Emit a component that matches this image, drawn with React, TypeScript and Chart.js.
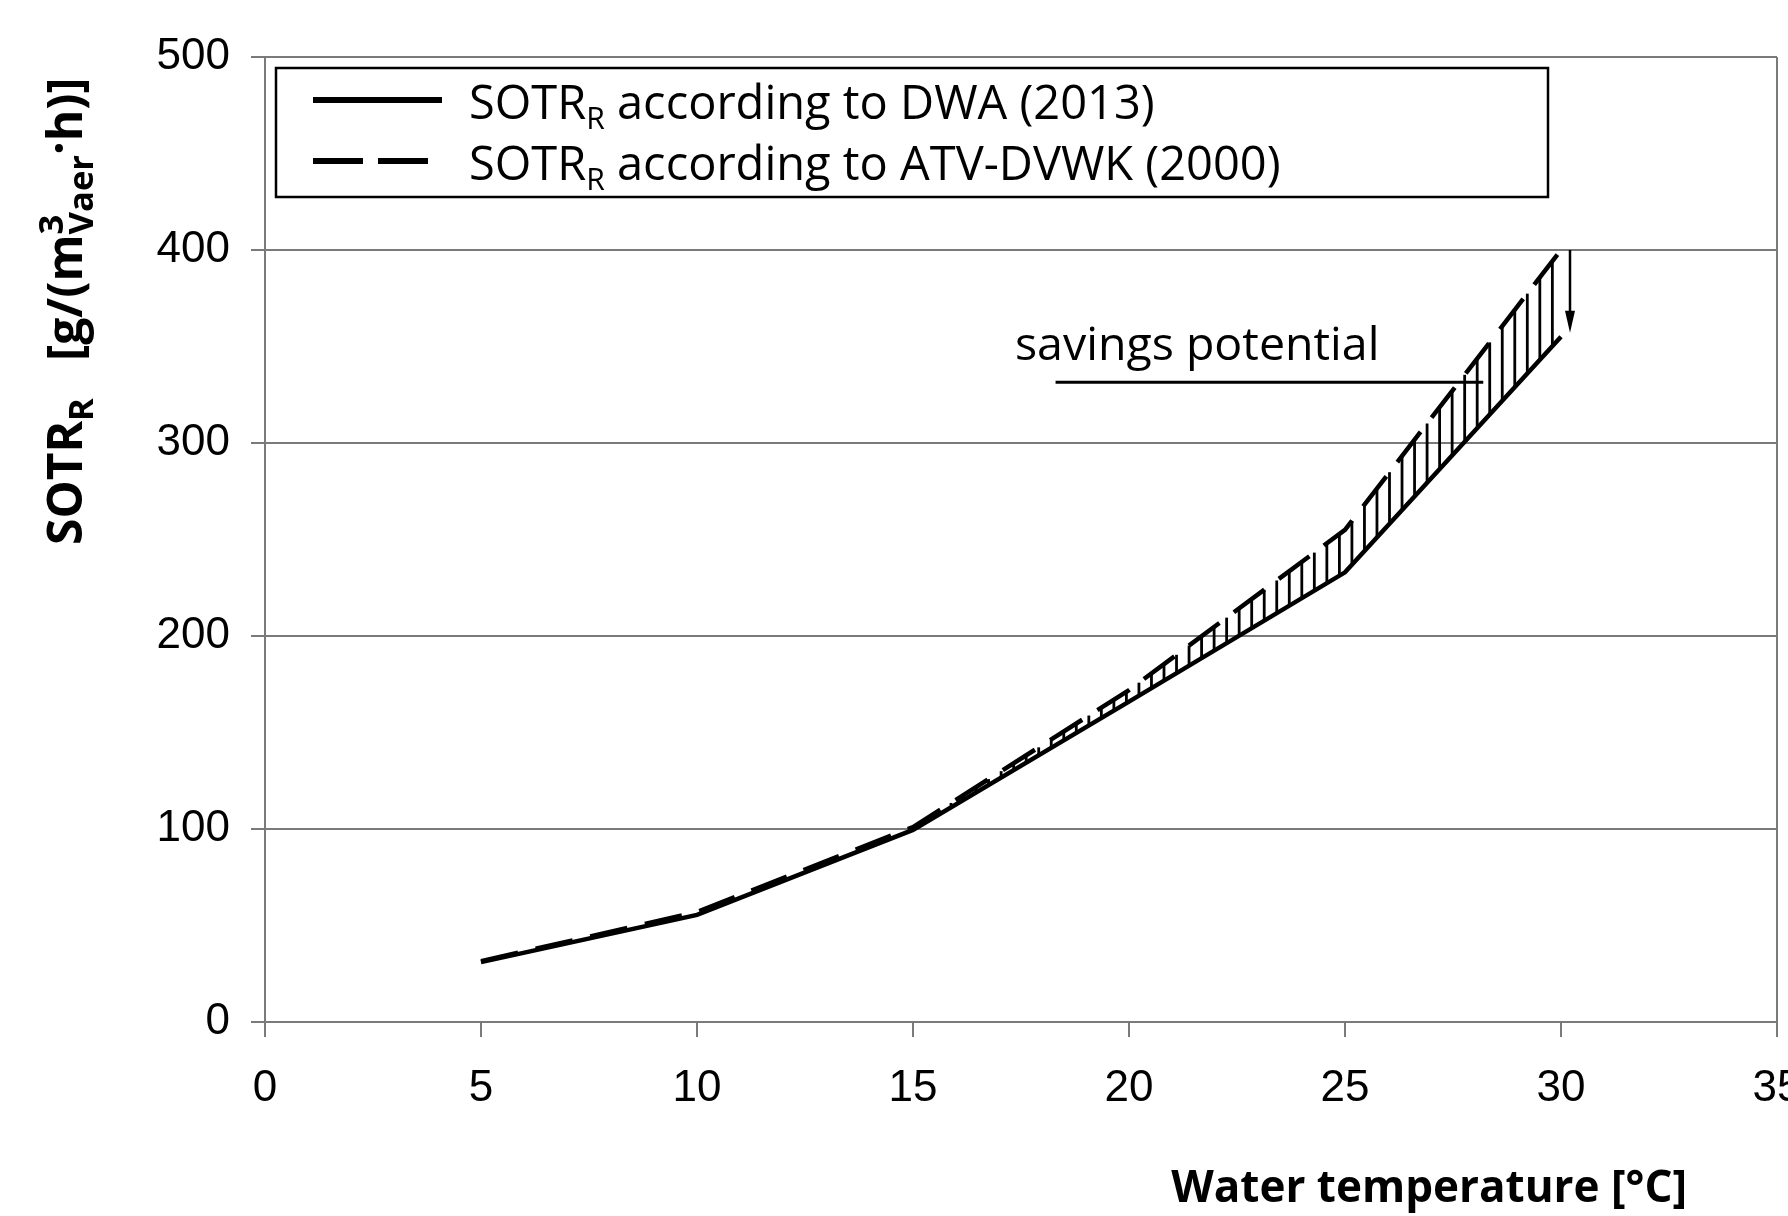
import React, { useEffect, useRef } from 'react';
import { Chart, registerables } from 'chart.js';

Chart.register(...registerables);

// ---- data ----
const temperatures = [5, 10, 15, 20, 25, 30];
const sotrDWA = [31, 55.5, 99.5, 166, 233, 355];
const sotrATV = [31.5, 57, 101, 172, 255, 400];
const xTickValues = [0, 5, 10, 15, 20, 25, 30, 35];
const yTickValues = [0, 100, 200, 300, 400, 500];
const seriesNames = ['according to DWA (2013)', 'according to ATV-DVWK (2000)'];
const hatchFrom = 15.3;
const hatchTo = 30;
const hatchStep = 0.29;
const noteText = 'savings potential';
const noteAt = { x: 17.36, y: 343 };
const noteLine = { x1: 18.3, x2: 28.2, y: 331.5 };

const GRID = '#7a7a7a';
const SANS = '"Open Sans", "Noto Sans", sans-serif';
const ARIAL = '"Liberation Sans", Arial, sans-serif';

type Part = { t: string; m?: 'sub' | 'sup' | 'mid'; stack?: boolean };

function drawRich(
  ctx: CanvasRenderingContext2D,
  parts: Part[],
  x: number,
  y: number,
  size: number,
  weight: string,
  ratio: number
) {
  let cx = x;
  let stackW = 0;
  for (const p of parts) {
    const s = p.m === 'sub' || p.m === 'sup' ? size * ratio : size;
    ctx.font = `${weight} ${s}px ${SANS}`;
    const dy =
      p.m === 'sub' ? size * 0.22 : p.m === 'sup' ? -size * 0.4 : p.m === 'mid' ? -size * 0.12 : 0;
    ctx.fillText(p.t, cx, y + dy);
    const w = ctx.measureText(p.t).width;
    if (p.stack) {
      stackW = w;
    } else {
      cx += Math.max(w, stackW);
      stackW = 0;
    }
  }
  return cx;
}

function interp(xs: number[], ys: number[], x: number) {
  for (let i = 0; i < xs.length - 1; i++) {
    if (x >= xs[i] && x <= xs[i + 1]) {
      const f = (x - xs[i]) / (xs[i + 1] - xs[i]);
      return ys[i] + f * (ys[i + 1] - ys[i]);
    }
  }
  return ys[ys.length - 1];
}

const decorations = {
  id: 'decorations',
  afterDatasetsDraw(chart: any) {
    const { ctx, scales, chartArea } = chart;
    const xs = scales.x;
    const ys = scales.y;
    ctx.save();
    // hatching between the two curves
    ctx.beginPath();
    ctx.rect(chartArea.left, chartArea.top, chartArea.right - chartArea.left, chartArea.bottom - chartArea.top);
    ctx.clip();
    ctx.strokeStyle = '#000';
    ctx.lineWidth = 2.8;
    for (let t = hatchFrom; t <= hatchTo + 1e-6; t += hatchStep) {
      const px = xs.getPixelForValue(t);
      const yTop = ys.getPixelForValue(interp(temperatures, sotrATV, t));
      const yBot = ys.getPixelForValue(interp(temperatures, sotrDWA, t));
      ctx.beginPath();
      ctx.moveTo(px, yTop);
      ctx.lineTo(px, yBot);
      ctx.stroke();
    }
    ctx.restore();

    ctx.save();
    ctx.fillStyle = '#000';
    ctx.strokeStyle = '#000';
    // arrow at the end
    const last = temperatures.length - 1;
    const ax = xs.getPixelForValue(temperatures[last]) + 9;
    const ay1 = ys.getPixelForValue(sotrATV[last]);
    const ay2 = ys.getPixelForValue(sotrDWA[last]) - 4;
    ctx.lineWidth = 2.5;
    ctx.beginPath();
    ctx.moveTo(ax, ay1);
    ctx.lineTo(ax, ay2 - 18);
    ctx.stroke();
    ctx.beginPath();
    ctx.moveTo(ax - 5, ay2 - 22);
    ctx.lineTo(ax + 5, ay2 - 22);
    ctx.lineTo(ax, ay2);
    ctx.closePath();
    ctx.fill();

    // annotation
    ctx.textAlign = 'left';
    ctx.textBaseline = 'alphabetic';
    ctx.font = `400 46.5px ${SANS}`;
    ctx.fillText(noteText, xs.getPixelForValue(noteAt.x), ys.getPixelForValue(noteAt.y));
    ctx.lineWidth = 3;
    ctx.beginPath();
    const ly = ys.getPixelForValue(noteLine.y);
    ctx.moveTo(xs.getPixelForValue(noteLine.x1), ly);
    ctx.lineTo(xs.getPixelForValue(noteLine.x2), ly);
    ctx.stroke();

    // legend box
    const bx = chartArea.left + 11;
    const by = chartArea.top + 11;
    const bw = 1272;
    const bh = 129;
    ctx.fillStyle = '#fff';
    ctx.fillRect(bx, by, bw, bh);
    ctx.lineWidth = 2.5;
    ctx.strokeStyle = '#000';
    ctx.strokeRect(bx, by, bw, bh);
    const rows = [by + 32, by + 93];
    ctx.lineWidth = 6;
    ctx.beginPath();
    ctx.moveTo(bx + 37, rows[0]);
    ctx.lineTo(bx + 166, rows[0]);
    ctx.stroke();
    ctx.setLineDash([50, 15]);
    ctx.beginPath();
    ctx.moveTo(bx + 37, rows[1]);
    ctx.lineTo(bx + 152, rows[1]);
    ctx.stroke();
    ctx.setLineDash([]);
    ctx.fillStyle = '#000';
    seriesNames.forEach((name, i) => {
      drawRich(ctx, [{ t: 'SOTR' }, { t: 'R', m: 'sub' }, { t: ' ' + name }], bx + 193, rows[i] + 19, 47, '400', 0.64);
    });

    // y axis title
    ctx.save();
    ctx.translate(82, 545);
    ctx.rotate(-Math.PI / 2);
    drawRich(
      ctx,
      [
        { t: 'SOTR' },
        { t: 'R', m: 'sub' },
        { t: '   [g/(m' },
        { t: '3', m: 'sup', stack: true },
        { t: 'Vaer', m: 'sub' },
        { t: '·', m: 'mid' },
        { t: 'h)]' },
      ],
      0,
      0,
      48,
      '700',
      0.72
    );
    ctx.restore();

    // x axis title
    ctx.textAlign = 'right';
    ctx.font = `700 44px ${SANS}`;
    ctx.fillText('Water temperature [°C]', chartArea.right - 90, 1202);
    ctx.restore();
  },
};

export default function App() {
  const ref = useRef<HTMLCanvasElement | null>(null);
  useEffect(() => {
    if (!ref.current) return;
    const chart = new Chart(ref.current, {
      type: 'line',
      data: {
        datasets: [
          {
            label: 'SOTR_R ' + seriesNames[1],
            data: temperatures.map((t, i) => ({ x: t, y: sotrATV[i] })),
            borderColor: '#000',
            borderWidth: 4.5,
            borderDash: [38, 18],
            pointRadius: 0,
            tension: 0,
            fill: false,
          },
          {
            label: 'SOTR_R ' + seriesNames[0],
            data: temperatures.map((t, i) => ({ x: t, y: sotrDWA[i] })),
            borderColor: '#000',
            borderWidth: 4.5,
            pointRadius: 0,
            tension: 0,
            fill: false,
          },
        ],
      },
      options: {
        animation: false,
        responsive: false,
        devicePixelRatio: 1,
        layout: { padding: { top: 57, right: 11, left: 0, bottom: 0 } },
        plugins: { legend: { display: false }, tooltip: { enabled: false } },
        scales: {
          x: {
            type: 'linear',
            min: 0,
            max: 35,
            afterBuildTicks: (s: any) => {
              s.ticks = xTickValues.map((v) => ({ value: v }));
            },
            ticks: {
              font: { family: ARIAL, size: 44 },
              color: '#000',
              padding: 25,
              maxRotation: 0,
              autoSkip: false,
            },
            grid: {
              color: (c: any) => (c.tick && c.tick.value === 35 ? GRID : 'rgba(0,0,0,0)'),
              tickColor: GRID,
              tickLength: 15,
              lineWidth: 2,
            },
            border: { color: GRID, width: 2 },
            afterFit: (s: any) => {
              s.height = 194;
              s.paddingLeft = 0;
              s.paddingRight = 0;
            },
          },
          y: {
            type: 'linear',
            min: 0,
            max: 500,
            afterBuildTicks: (s: any) => {
              s.ticks = yTickValues.map((v) => ({ value: v }));
            },
            ticks: {
              font: { family: ARIAL, size: 44 },
              color: '#000',
              padding: 21,
            },
            grid: { color: GRID, tickColor: GRID, tickLength: 14, lineWidth: 2 },
            border: { color: GRID, width: 2 },
            afterFit: (s: any) => {
              s.width = 265;
              s.paddingTop = 0;
              s.paddingBottom = 0;
            },
          },
        },
      },
      plugins: [decorations],
    });
    return () => chart.destroy();
  }, []);
  return (
    <div style={{ position: 'fixed', left: 0, top: 0, width: 1788, height: 1216, background: '#fff' }}>
      <canvas ref={ref} width={1788} height={1216} style={{ display: 'block' }} />
    </div>
  );
}
